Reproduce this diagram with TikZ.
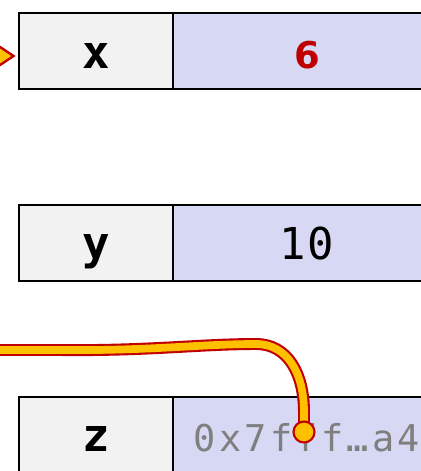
\documentclass[tikz,border=0pt]{standalone}
\usepackage{fontspec}
\newfontfamily\cellmono{DejaVu Sans Mono}
\newfontfamily\valmono[LetterSpace=4]{DejaVu Sans Mono}
\newfontfamily\addrmono[LetterSpace=9]{DejaVu Sans Mono}
\newfontfamily\cellsans{DejaVu Sans}
\usetikzlibrary{arrows.meta,positioning}
\definecolor{Ink}{HTML}{000000}
\definecolor{NameFill}{HTML}{F2F2F2}
\definecolor{ValueFill}{HTML}{D6D8F4}
\definecolor{PtrFill}{HTML}{FFC000}
\definecolor{PtrEdge}{HTML}{C00000}
\definecolor{AddrGrey}{HTML}{7F7F7F}
% path of the pointer z -> x, drawn twice (edge, then fill)
\newcommand\zxpath{(zptr) -- (304,412) .. controls (304,374) and (288,344) .. (256,344) .. controls (200,344) and (150,351) .. (60,350) -- (-40,350) -- (-40,56) -- ([yshift=-0.1cm]xname.west)}

\begin{document}
\begin{tikzpicture}[x=0.02cm,y=-0.02cm,
  cell/.style={rectangle,draw=Ink,line width=1.1pt,outer sep=0pt,inner sep=0pt,minimum height=1.52cm,text height=0.8cm,text depth=0.12cm},
  namecell/.style={cell,fill=NameFill,minimum width=3.08cm,font=\cellmono\bfseries\fontsize{26}{30}\selectfont},
  valuecell/.style={cell,fill=ValueFill,minimum width=5.36cm},
  ptr outer/.style={draw=PtrEdge,line width=6.8pt,line join=round,-{Triangle[length=0.5cm,width=0.62cm]},shorten >=0.06cm},
  ptr inner/.style={draw=PtrFill,line width=4.4pt,line join=round,-{Triangle[length=0.35cm,width=0.44cm]},shorten >=0.154cm},
  ptr dot/.style={circle,fill=PtrFill,draw=PtrEdge,line width=1.2pt,minimum size=0.42cm,inner sep=0pt}]
\useasboundingbox (0,0) rectangle (421,471);
% memory cells
\node[namecell] (xname) at (96,51) {x};
\node[valuecell,right=0pt of xname,text=PtrEdge,font=\cellsans\bfseries\fontsize{21}{25}\selectfont] (xval) {6};
\node[namecell,below=2.32cm of xname] (yname) {y};
\node[valuecell,right=0pt of yname,font=\valmono\fontsize{25}{29}\selectfont] (yval) {10};
\node[namecell,below=2.32cm of yname] (zname) {z};
\node[valuecell,right=0pt of zname,text=AddrGrey,font=\addrmono\fontsize{21}{25}\selectfont] (zval) {0x7fff…a4};
% pointer
\coordinate (zptr) at (304,432);
\draw[ptr outer] \zxpath;
\draw[ptr inner] \zxpath;
\node[ptr dot] (zdot) at (zptr) {};
\end{tikzpicture}
\end{document}
